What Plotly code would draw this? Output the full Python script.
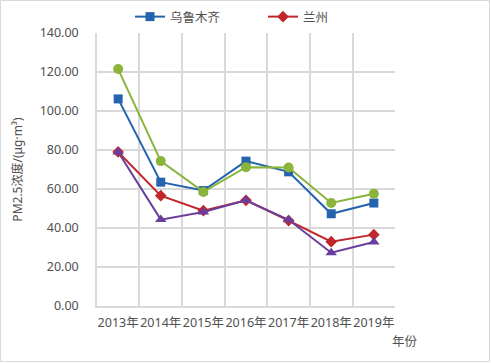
import plotly.graph_objects as go

years = ["2013年", "2014年", "2015年", "2016年", "2017年", "2018年", "2019年"]
urumqi = [106.2, 63.5, 59.2, 74.3, 68.8, 47.3, 52.8]
lanzhou = [79.0, 56.6, 48.9, 54.2, 43.8, 33.0, 36.6]
series3 = [121.5, 74.3, 58.5, 71.2, 71.0, 52.8, 57.6]
series4 = [79.0, 44.3, 48.2, 54.2, 44.2, 27.3, 32.8]

font = "Noto Sans, Noto Sans CJK SC, sans-serif"
fig = go.Figure()
fig.add_trace(go.Scatter(x=years, y=urumqi, name="乌鲁木齐", mode="lines+markers",
                         line=dict(color="#2563AE", width=2),
                         marker=dict(symbol="square", size=9, color="#2563AE")))
fig.add_trace(go.Scatter(x=years, y=lanzhou, name="兰州", mode="lines+markers",
                         line=dict(color="#C0262B", width=2),
                         marker=dict(symbol="diamond", size=9, color="#C0262B")))
fig.add_trace(go.Scatter(x=years, y=series3, name="", mode="lines+markers", showlegend=False,
                         line=dict(color="#8AB43A", width=2),
                         marker=dict(symbol="circle", size=10, color="#8AB43A")))
fig.add_trace(go.Scatter(x=years, y=series4, name="", mode="lines+markers", showlegend=False,
                         line=dict(color="#6A3E9C", width=2),
                         marker=dict(symbol="triangle-up", size=10, color="#6A3E9C")))

W, H = 491, 363
L, R, T, B = 97, 96, 33, 57
pw, ph = W - L - R, H - T - B

fig.update_layout(
    width=W, height=H,
    margin=dict(l=L, r=R, t=T, b=B, autoexpand=False),
    paper_bgcolor="white", plot_bgcolor="white",
    font=dict(family=font, size=12, color="#505050"),
    showlegend=True,
    legend=dict(orientation="h", x=(130 - L) / pw, xanchor="left",
                y=1 + (T - 17) / ph, yanchor="middle",
                font=dict(size=12.5), itemwidth=30, entrywidth=88, entrywidthmode="pixels",
                bgcolor="rgba(0,0,0,0)"),
    xaxis=dict(type="category", tickson="boundaries", showgrid=True, gridcolor="#D9D9D9",
               gridwidth=1.5, showline=True, linecolor="#D9D9D9", linewidth=1.5, ticks="",
               tickangle=0, tickfont=dict(size=12.5), zeroline=False, automargin=False,
               ticklabelstandoff=4),
    yaxis=dict(range=[0, 140], dtick=20, tickformat=".2f", showgrid=True, gridcolor="#D9D9D9",
               gridwidth=1.5, showline=True, linecolor="#D9D9D9", linewidth=1.5, ticks="",
               tickfont=dict(size=12.5), zeroline=False, ticklabelstandoff=14, automargin=False,
               title=dict(text="PM2.5浓度/(μg·m³)", font=dict(size=12), standoff=14)),
    annotations=[dict(text="年份", xref="paper", yref="paper", showarrow=False,
                      xanchor="center", yanchor="middle",
                      x=(405 - L) / pw, y=-(341 - (T + ph)) / ph, font=dict(size=12.5))],
)
fig.add_shape(type="rect", xref="paper", yref="paper",
              x0=-(L - 0.5) / pw, x1=1 + (R - 1.5) / pw, y0=-(B - 1.5) / ph, y1=1 + (T - 0.5) / ph,
              line=dict(color="#D9D9D9", width=1))
fig.write_html("out.html", config={"displayModeBar": False},
               post_script="document.body.style.margin='0';")
